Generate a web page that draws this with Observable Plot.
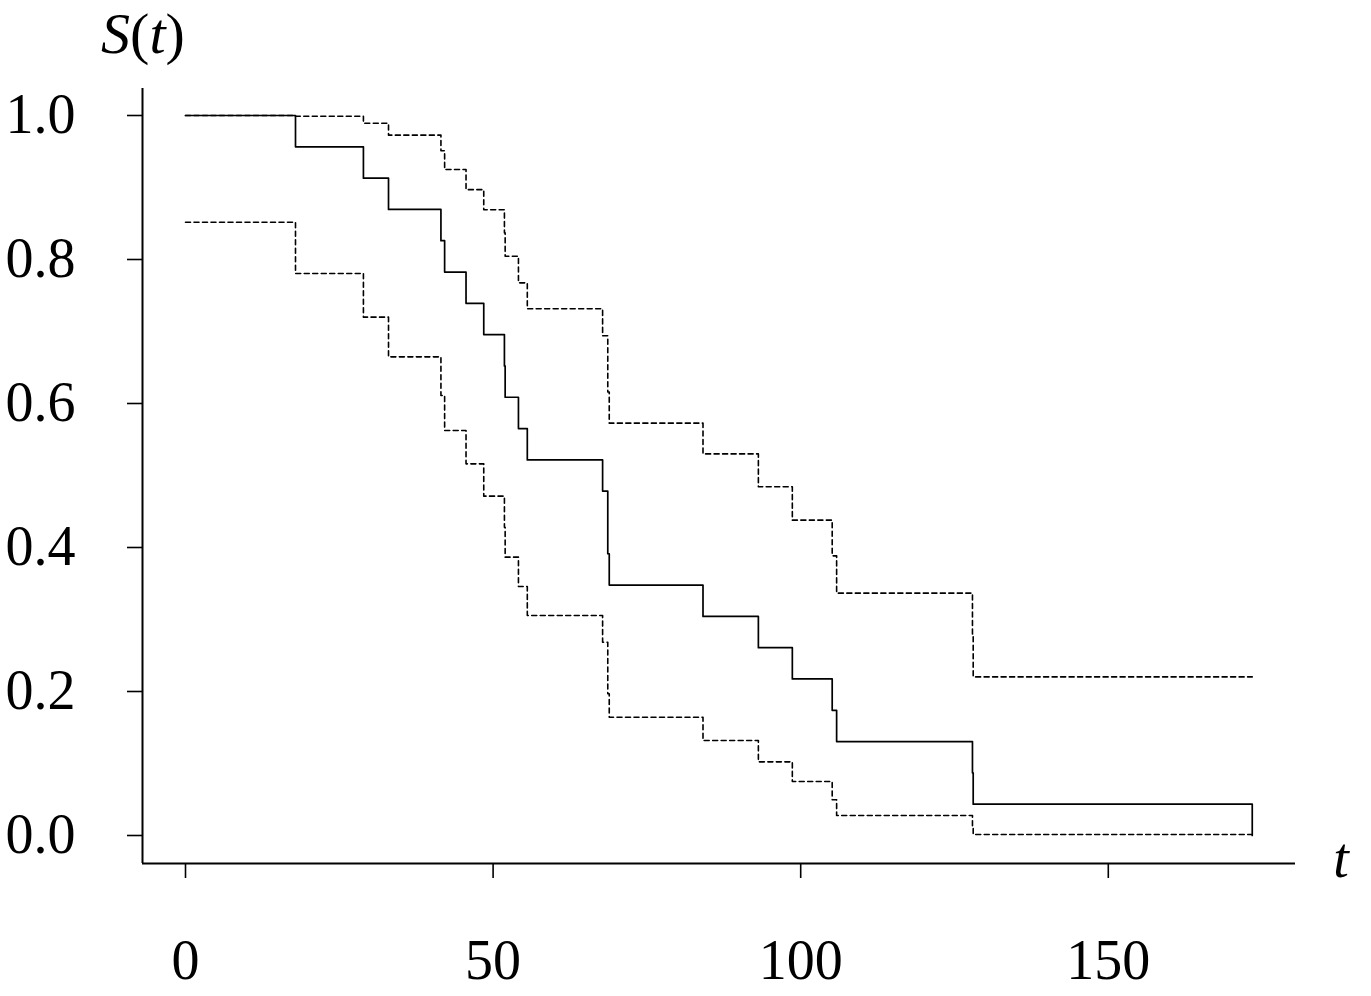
<!DOCTYPE html>
<html>
<head>
<meta charset="utf-8">
<script src="https://cdn.jsdelivr.net/npm/d3@7"></script>
<script src="https://cdn.jsdelivr.net/npm/@observablehq/plot@0.6"></script>
<style>
  html, body { margin: 0; padding: 0; background: #fff; }
  #chart svg { display: block; }
</style>
</head>
<body>
<div id="chart"></div>
<script>
// Event times (step positions)
const times = [0, 17.88, 28.92, 33.00, 41.52, 42.12, 45.60, 48.48, 51.84, 51.96, 54.12, 55.56,
  67.80, 68.64, 68.88, 84.12, 93.12, 98.64, 105.12, 105.84, 127.92, 128.04, 173.40];
// Survival estimate S(t) after each time
const survival = [1.0, 0.9565, 0.9130, 0.8696, 0.8261, 0.7826, 0.7391, 0.6957, 0.6522, 0.6087, 0.5652, 0.5217,
  0.4783, 0.3913, 0.3478, 0.3043, 0.2609, 0.2174, 0.1739, 0.1304, 0.0870, 0.0435, 0.0];
// Upper confidence band
const upper = [1.0, 0.999, 0.9893, 0.9727, 0.951, 0.925, 0.897, 0.869, 0.837, 0.8046, 0.7676, 0.7315,
  0.694, 0.616, 0.5727, 0.530, 0.4843, 0.438, 0.3884, 0.3366, 0.280, 0.2203, 0.2203];
// Lower confidence band
const lower = [0.8518, 0.7806, 0.7199, 0.6648, 0.6111, 0.5625, 0.5162, 0.4713, 0.428, 0.3866, 0.3458, 0.3056,
  0.2685, 0.1968, 0.1643, 0.1319, 0.1023, 0.075, 0.0496, 0.0278, 0.0115, 0.0014, 0.0014];
// Tick labels
const xTicks = [0, 50, 100, 150];
const yTicks = [0.0, 0.2, 0.4, 0.6, 0.8, 1.0];

const xDomain = [-6.99, 180.43];
const yDomain = [-0.03889, 1.0375];

const rows = times.map((t, i) => ({t, s: survival[i], hi: upper[i], lo: lower[i]}));

const FONT = "'Liberation Serif', 'Times New Roman', serif";

const chart = Plot.plot({
  width: 1371,
  height: 996,
  marginLeft: 142,
  marginRight: 76,
  marginTop: 88,
  marginBottom: 133,
  style: {fontFamily: FONT, background: "#fff", color: "#000"},
  x: {domain: xDomain},
  y: {domain: yDomain},
  marks: [
    Plot.axisY({ticks: yTicks, tickSize: 15, tickPadding: 52, tickFormat: d3.format(".1f"),
      fontSize: 56, strokeWidth: 1.6, label: null}),
    Plot.axisX({ticks: xTicks, tickSize: 15, tickPadding: 61, tickFormat: d3.format("d"),
      fontSize: 56, strokeWidth: 1.6, label: null}),
    Plot.ruleX([xDomain[0]], {stroke: "#000", strokeWidth: 2}),
    Plot.ruleY([yDomain[0]], {stroke: "#000", strokeWidth: 2}),
    Plot.line(rows, {x: "t", y: "hi", curve: "step-after", stroke: "#000", strokeWidth: 1.6,
      strokeDasharray: "5,3.5"}),
    Plot.line(rows, {x: "t", y: "lo", curve: "step-after", stroke: "#000", strokeWidth: 1.6,
      strokeDasharray: "5,3.5"}),
    Plot.line(rows, {x: "t", y: "s", curve: "step-after", stroke: "#000", strokeWidth: 1.7})
  ]
});

document.getElementById("chart").appendChild(chart);

// Axis titles with mixed italic
const svg = d3.select(chart);
const st = svg.append("text")
  .attr("x", 143).attr("y", 53)
  .attr("text-anchor", "middle")
  .attr("font-family", FONT).attr("font-size", 58).attr("fill", "#000");
st.append("tspan").attr("font-style", "italic").text("S");
st.append("tspan").text("(");
st.append("tspan").attr("font-style", "italic").text("t");
st.append("tspan").text(")");

svg.append("text")
  .attr("x", 1341).attr("y", 877)
  .attr("text-anchor", "middle")
  .attr("font-family", FONT).attr("font-size", 56).attr("font-style", "italic").attr("fill", "#000")
  .text("t");
</script>
</body>
</html>
